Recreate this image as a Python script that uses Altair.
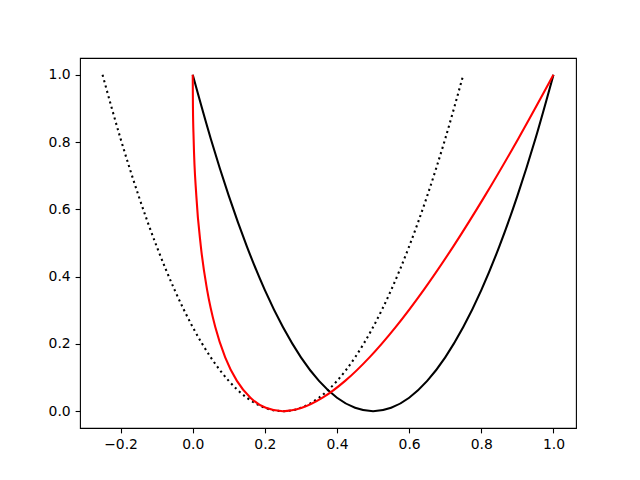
import altair as alt
import pandas as pd

# Black solid curve
solid_x = [0.0, 0.05, 0.1, 0.15, 0.2, 0.25, 0.3, 0.35, 0.4, 0.45, 0.5,
           0.55, 0.6, 0.65, 0.7, 0.75, 0.8, 0.85, 0.9, 0.95, 1.0]
solid_y = [1.0, 0.81, 0.64, 0.49, 0.36, 0.25, 0.16, 0.09, 0.04, 0.01, 0.0,
           0.01, 0.04, 0.09, 0.16, 0.25, 0.36, 0.49, 0.64, 0.81, 1.0]

# Black dotted curve
dot_x = [-0.25, -0.2, -0.15, -0.1, -0.05, 0.0, 0.05, 0.1, 0.15, 0.2, 0.25,
         0.3, 0.35, 0.4, 0.45, 0.5, 0.55, 0.6, 0.65, 0.7, 0.75]
dot_y = [1.0, 0.81, 0.64, 0.49, 0.36, 0.25, 0.16, 0.09, 0.04, 0.01, 0.0,
         0.01, 0.04, 0.09, 0.16, 0.25, 0.36, 0.49, 0.64, 0.81, 1.0]

# Red curve
red_x = [0.0, 0.000625, 0.0025, 0.01, 0.0225, 0.04, 0.0625, 0.09, 0.1225, 0.16, 0.2025, 0.25,
         0.3025, 0.36, 0.4225, 0.49, 0.5625, 0.64, 0.7225, 0.81, 0.9025, 1.0]
red_y = [1.0, 0.9025, 0.81, 0.64, 0.49, 0.36, 0.25, 0.16, 0.09, 0.04, 0.01, 0.0,
         0.01, 0.04, 0.09, 0.16, 0.25, 0.36, 0.49, 0.64, 0.81, 1.0]

x_ticks = [-0.2, 0.0, 0.2, 0.4, 0.6, 0.8, 1.0]
y_ticks = [0.0, 0.2, 0.4, 0.6, 0.8, 1.0]

xs = alt.Scale(domain=[-0.3125, 1.0625], nice=False, zero=False)
ys = alt.Scale(domain=[-0.05, 1.05], nice=False, zero=False)

axis_kw = dict(format=".1f", title=None, grid=False, domain=False,
               tickColor="black", tickWidth=1.1, tickSize=4.9, labelPadding=4.9,
               labelColor="black", labelFont="DejaVu Sans", labelFontSize=13.9)
xax = alt.Axis(values=x_ticks, **axis_kw)
yax = alt.Axis(values=y_ticks, **axis_kw)


def layer(xv, yv, color, dash=None):
    df = pd.DataFrame({"x": xv, "y": yv, "o": list(range(len(xv)))})
    kw = dict(color=color, strokeWidth=2.08, interpolate="monotone", clip=True)
    if dash:
        kw["strokeDash"] = dash
    return alt.Chart(df).mark_line(**kw).encode(
        x=alt.X("x:Q", scale=xs, axis=xax),
        y=alt.Y("y:Q", scale=ys, axis=yax),
        order="o:Q",
    )


chart = alt.layer(
    layer(dot_x, dot_y, "black", [2.08, 3.44]),
    layer(solid_x, solid_y, "black"),
    layer(red_x, red_y, "red"),
).properties(
    width=496, height=370,
    autosize=alt.AutoSizeParams(type="none"),
    padding={"left": 72, "top": 50, "right": 56, "bottom": 44},
).configure_view(stroke="black", strokeWidth=1.1)

chart.save("out.html", embed_options={"renderer": "svg", "actions": False})
